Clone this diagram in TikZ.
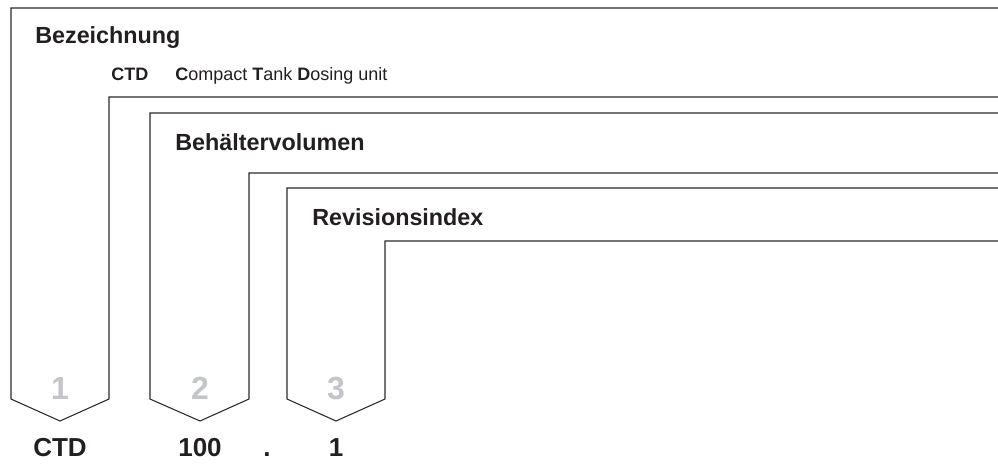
\documentclass[tikz,border=0pt]{standalone}
\usepackage{fontspec}
\setmainfont{Liberation Sans}
\definecolor{rahmen}{HTML}{2A2A2A}
\definecolor{schrift}{HTML}{231F20}
\definecolor{ziffer}{HTML}{C3C5C8}
\begin{document}
\begin{tikzpicture}[x=0.75pt, y=-0.75pt,
    rahmenlinie/.style={draw=rahmen, line width=0.8pt, line join=miter},
    titel/.style={anchor=base west, inner sep=0pt, text=schrift, font=\bfseries\fontsize{17.5}{20}\selectfont},
    klein/.style={anchor=base west, inner sep=0pt, text=schrift, font=\fontsize{13.5}{15}\selectfont},
    nummer/.style={inner sep=0pt, text=ziffer, font=\bfseries\fontsize{24}{26}\selectfont},
    code/.style={anchor=base, inner sep=0pt, text=schrift, font=\bfseries\fontsize{19.5}{22}\selectfont}]
    \useasboundingbox (0,0) rectangle (998,468);

    % Klammern
    \draw[rahmenlinie] (998,8) -- (11,8) -- (11,399) -- (60,421) -- (109,399) -- (109,97) -- (998,97);
    \draw[rahmenlinie] (998,113) -- (150,113) -- (150,399) -- (200,421) -- (249,399) -- (249,173) -- (998,173);
    \draw[rahmenlinie] (998,188) -- (287,188) -- (287,399) -- (336,421) -- (385,399) -- (385,241) -- (998,241);

    \node[titel] (bez) at (35,43) {Bezeichnung};
    \node[klein, font=\bfseries\fontsize{13.5}{15}\selectfont] (ctdk) at (111,80) {CTD};
    \node[klein] (ctdl) at (175,80) {\textbf{C}ompact \textbf{T}ank \textbf{D}osing unit};
    \node[titel] (vol) at (175,150) {Behältervolumen};
    \node[titel] (rev) at (312,225) {Revisionsindex};

    \node[nummer] (n1) at (60,388) {1};
    \node[nummer] (n2) at (200,388) {2};
    \node[nummer] (n3) at (336,388) {3};

    \node[code] (c1) at (60,456) {CTD};
    \node[code] (c2) at (200,456) {100};
    \node[code] (c3) at (267,456) {.};
    \node[code] (c4) at (336,456) {1};
\end{tikzpicture}
\end{document}
